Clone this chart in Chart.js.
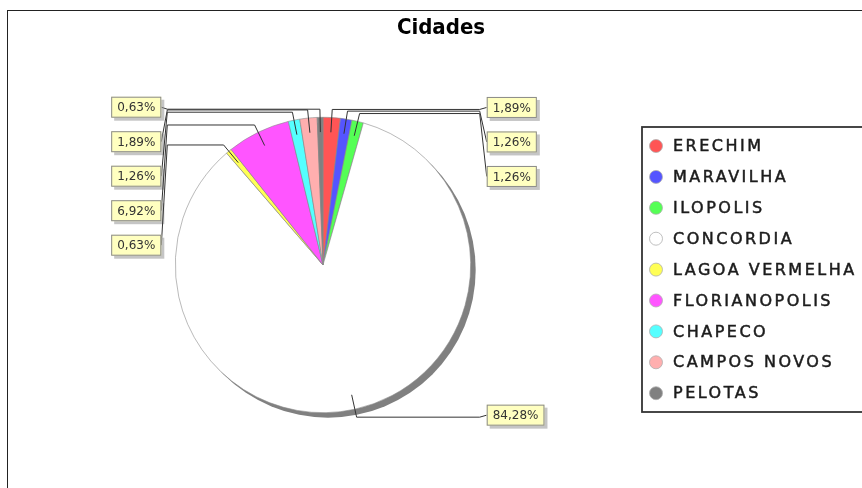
<!DOCTYPE html>
<html>
<head>
<meta charset="utf-8">
<script src="https://cdn.jsdelivr.net/npm/chart.js@4.4.1/dist/chart.umd.min.js"></script>
<style>
html,body{margin:0;padding:0;background:#fff}
#wrap{width:862px;height:488px;position:relative}
</style>
</head>
<body>
<div id="wrap"><canvas id="pie-canvas"></canvas></div>
<script>
const titulo='Cidades'
const cidades=['ERECHIM','MARAVILHA','ILOPOLIS','CONCORDIA','LAGOA VERMELHA','FLORIANOPOLIS','CHAPECO','CAMPOS NOVOS','PELOTAS']
const quantidades=[3,2,2,134,1,11,2,3,1]
const cores=['#ff5555','#5555ff','#55ff55','#ffffff','#ffff55','#ff55ff','#55ffff','#ffafaf','#808080']

const total=quantidades.reduce((a,b)=>a+b,0)
const porcentagens=quantidades.map(v=>(v/total*100).toFixed(2).replace('.',',')+'%')

//plugin: sombra da pizza, rotulos com linhas, titulo, legenda e borda
const enfeites={
  id:'enfeites',
  beforeDatasetsDraw(chart){
    const ctx=chart.ctx
    const a=chart.getDatasetMeta(0).data[0]
    ctx.save()
    ctx.fillStyle='#808080'
    ctx.beginPath()
    ctx.arc(a.x+5,a.y+5,a.outerRadius,0,Math.PI*2)
    ctx.fill()
    ctx.restore()
  },
  afterDatasetsDraw(chart){
    const ctx=chart.ctx
    const arcs=chart.getDatasetMeta(0).data
    const cx=arcs[0].x, cy=arcs[0].y, r=arcs[0].outerRadius
    const esq=[], dir=[]
    arcs.forEach((a,i)=>{
      const mid=(a.startAngle+a.endAngle)/2
      const rec={i,
        lx:cx+Math.cos(mid)*r*0.9, ly:cy+Math.sin(mid)*r*0.9,
        ex:cx+Math.cos(mid)*r*1.055, ey:cy+Math.sin(mid)*r*1.055}
      if(Math.cos(mid)<0) esq.push(rec); else dir.push(rec)
    })
    ctx.save()
    ctx.font='12px "DejaVu Sans", sans-serif'
    ctx.textBaseline='middle'
    const grupo=(lista,lado)=>{
      lista.sort((p,q)=>p.ey-q.ey)
      let prev=-1e9
      lista.forEach(rec=>{
        rec.y=Math.max(rec.ey-2,prev+34.5)
        prev=rec.y
      })
      const ax=lado<0?cx-r-8:cx+r+9
      lista.forEach(rec=>{
        const tx=lado<0?ax-6:ax+7
        ctx.strokeStyle='#333'
        ctx.lineWidth=1
        ctx.beginPath()
        ctx.moveTo(rec.lx,rec.ly)
        ctx.lineTo(rec.ex,rec.ey)
        ctx.lineTo(ax,rec.ey)
        ctx.lineTo(tx,rec.y)
        ctx.stroke()
        const txt=porcentagens[rec.i]
        const w=ctx.measureText(txt).width+12, h=21
        const bx=lado<0?tx-w:tx, by=rec.y-h/2
        ctx.fillStyle='rgba(150,150,150,0.55)'
        ctx.fillRect(bx+3,by+3,w,h)
        ctx.fillStyle='#ffffc0'
        ctx.fillRect(bx,by,w,h)
        ctx.strokeStyle='#8a8a8a'
        ctx.strokeRect(bx+0.5,by+0.5,w-1,h-1)
        ctx.fillStyle='#333'
        ctx.textAlign='center'
        ctx.fillText(txt,bx+w/2,rec.y+1)
      })
    }
    grupo(esq,-1)
    grupo(dir,1)
    ctx.restore()
  },
  afterDraw(chart){
    const ctx=chart.ctx
    ctx.save()
    //borda externa
    ctx.strokeStyle='#222'
    ctx.lineWidth=1
    ctx.strokeRect(7.5,10.5,900,600)
    //titulo
    ctx.fillStyle='#000'
    ctx.font='bold 22px "DejaVu Sans Condensed", "Liberation Sans Narrow", sans-serif'
    ctx.textAlign='center'
    ctx.textBaseline='middle'
    ctx.fillText(titulo,441,28)
    //legenda
    const lx=642, ly=127
    ctx.fillStyle='#fff'
    ctx.fillRect(lx,ly,260,285)
    ctx.strokeStyle='#333'
    ctx.lineWidth=1.8
    ctx.strokeRect(lx,ly,260,285)
    ctx.font='16px "DejaVu Sans", sans-serif'
    ctx.letterSpacing='2.5px'
    ctx.textAlign='left'
    cidades.forEach((nome,i)=>{
      const y=146+i*30.9
      ctx.beginPath()
      ctx.arc(656,y,6.5,0,Math.PI*2)
      ctx.fillStyle=cores[i]
      ctx.fill()
      ctx.lineWidth=0.8
      ctx.strokeStyle='#b0b0b0'
      ctx.stroke()
      ctx.fillStyle='#1c1c1c'
      ctx.strokeStyle='#1c1c1c'
      ctx.lineWidth=0.5
      ctx.fillText(nome,673,y+1)
      ctx.strokeText(nome,673,y+1)
    })
    ctx.restore()
  }
}

const pie_canvas=document.getElementById('pie-canvas')
new Chart(pie_canvas,{
  type:'pie',
  data:{
    labels:cidades,
    datasets:[{
      label:titulo,
      data:quantidades,
      backgroundColor:cores,
      borderColor:'#8c8c8c',
      borderWidth:0.6
    }]
  },
  options:{
    responsive:true,
    maintainAspectRatio:false,
    animation:false,
    layout:{padding:{left:175,top:117,right:391,bottom:75}},
    plugins:{
      legend:{display:false},
      title:{display:false},
      tooltip:{enabled:false}
    }
  },
  plugins:[enfeites]
})
</script>
</body>
</html>
